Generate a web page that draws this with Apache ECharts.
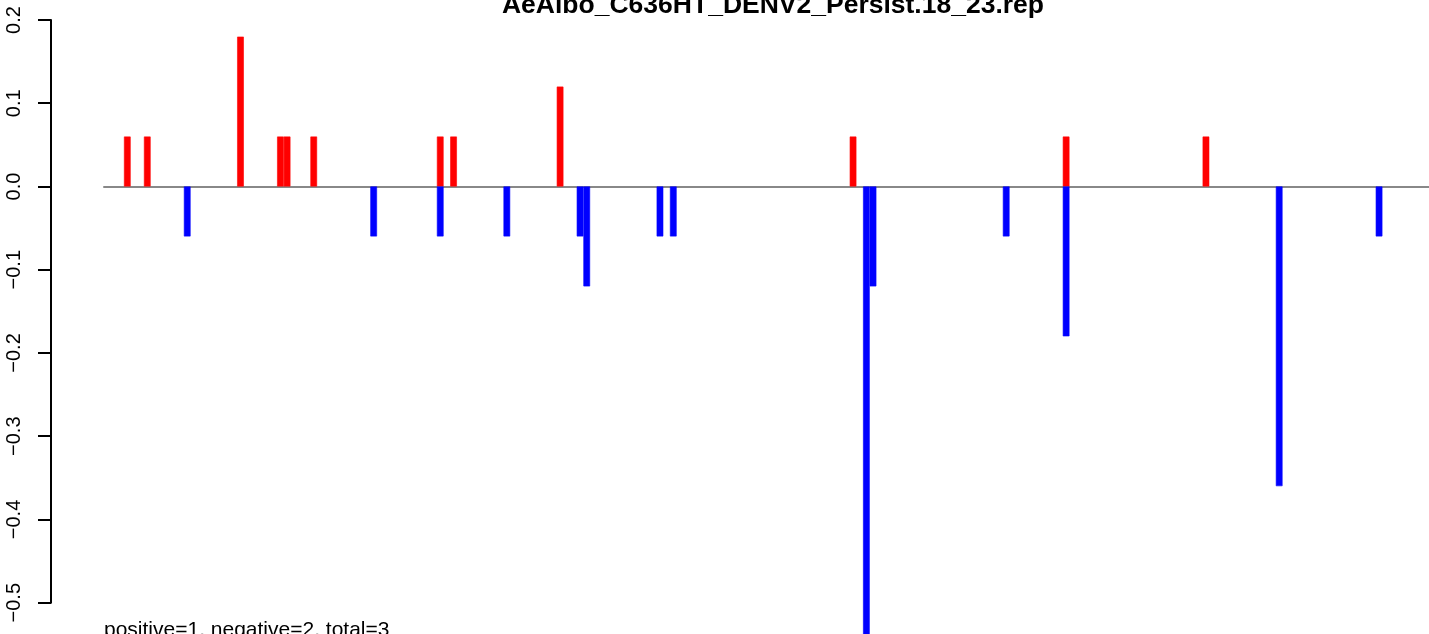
<!DOCTYPE html>
<html>
<head>
<meta charset="utf-8">
<script src="https://cdn.jsdelivr.net/npm/echarts@6/dist/echarts.min.js"></script>
<style>
  html,body{margin:0;padding:0;background:#fff;}
  #main{width:1429px;height:634px;}
</style>
</head>
<body>
<div id="main"></div>
<script>
// 位点数（柱子个数），空位点不画
var binCount = 199;
// 正向（红）柱：位点序号与数值
var posBins = [3, 6, 20, 26, 27, 31, 50, 52, 68, 112, 144, 165];
var posVals = [0.06, 0.06, 0.18, 0.06, 0.06, 0.06, 0.06, 0.06, 0.12, 0.06, 0.06, 0.06];
// 负向（蓝）柱
var negBins = [12, 40, 50, 60, 71, 72, 83, 85, 114, 115, 135, 144, 176, 191];
var negVals = [-0.06, -0.06, -0.06, -0.06, -0.06, -0.12, -0.06, -0.06, -0.54, -0.12, -0.06, -0.18, -0.36, -0.06];
// y轴刻度
var yTicks = [-0.5, -0.4, -0.3, -0.2, -0.1, 0.0, 0.1, 0.2];

var titleText = 'AeAlbo_C636HT_DENV2_Persist.18_23.rep';
var noteText = 'positive=1, negative=2, total=3';

// 数据处理
var cats = [];
var posData = [];
var negData = [];
for (var i = 0; i < binCount; i++) {
    cats.push(String(i + 1));
    posData.push('-');
    negData.push('-');
}
for (var i = 0; i < posBins.length; i++) posData[posBins[i]] = posVals[i];
for (var i = 0; i < negBins.length; i++) negData[negBins[i]] = negVals[i];

var myChart = echarts.init(document.getElementById('main'));
var option = {
    animation: false,
    textStyle: {fontFamily: 'Liberation Sans, Arial, sans-serif'},
    title: {
        text: titleText,
        left: 768,
        textAlign: 'center',
        top: -13,
        textStyle: {fontSize: 26.5, fontWeight: 'bold', color: '#000', fontFamily: 'Liberation Sans'}
    },
    graphic: [{
        type: 'text',
        left: 104,
        top: 620,
        style: {text: noteText, font: '21px "Liberation Sans"', fill: '#000'}
    }],
    grid: {left: 104, right: -3, top: 20, bottom: 31.3, containLabel: false},
    xAxis: {
        type: 'category',
        data: cats,
        axisLine: {show: true, onZero: true, lineStyle: {color: '#888', width: 2}},
        axisTick: {show: false},
        axisLabel: {show: false},
        splitLine: {show: false}
    },
    yAxis: {
        type: 'value',
        min: yTicks[0],
        max: yTicks[yTicks.length - 1],
        interval: 0.1,
        offset: 53,
        axisLine: {show: true, lineStyle: {color: '#000', width: 2}},
        axisTick: {show: true, length: 13, lineStyle: {color: '#000', width: 2}},
        splitLine: {show: false},
        axisLabel: {
            rotate: 90,
            margin: 27,
            fontSize: 20,
            color: '#000',
            fontFamily: 'Liberation Sans',
            formatter: function (v) {
                var s = Math.abs(v).toFixed(1);
                return v < -1e-9 ? '\u2212' + s : s;
            }
        }
    },
    series: [
        {
            name: 'positive',
            type: 'bar',
            data: posData,
            barGap: '-100%',
            barCategoryGap: '0%',
            clip: false,
            itemStyle: {color: '#ff0000', borderColor: '#ff0000', borderWidth: 0.6}
        },
        {
            name: 'negative',
            type: 'bar',
            data: negData,
            barGap: '-100%',
            barCategoryGap: '0%',
            clip: false,
            itemStyle: {color: '#0000ff', borderColor: '#0000ff', borderWidth: 0.6}
        }
    ]
};
myChart.setOption(option);
</script>
</body>
</html>
